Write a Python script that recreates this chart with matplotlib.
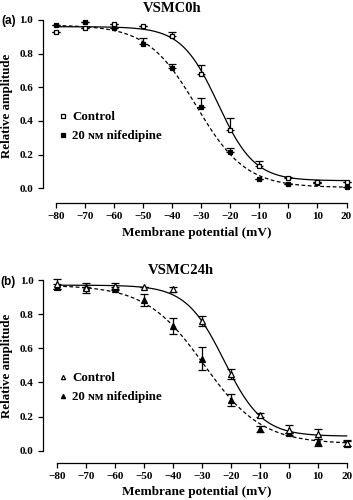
import numpy as np
import matplotlib
matplotlib.use("Agg")
import matplotlib.pyplot as plt

plt.rcParams['font.family'] = ['Liberation Serif', 'DejaVu Serif']
plt.rcParams['font.weight'] = 'bold'

# ---- data ----
voltages = [-80, -70, -60, -50, -40, -30, -20, -10, 0, 10, 20]

a_ctrl = [0.93, 0.95, 0.975, 0.965, 0.907, 0.68, 0.347, 0.13, 0.06, 0.04, 0.035]
a_ctrl_err = [0.0, 0.0, 0.0, 0.0, 0.024, 0.053, 0.07, 0.03, 0.01, 0.0, 0.0]
a_nif = [0.97, 0.985, 0.955, 0.86, 0.713, 0.485, 0.218, 0.055, 0.024, 0.034, 0.005]
a_nif_err = [0.0, 0.0, 0.0, 0.03, 0.026, 0.054, 0.024, 0.0, 0.0, 0.0, 0.0]

b_ctrl = [0.975, 0.955, 0.965, 0.962, 0.945, 0.76, 0.45, 0.21, 0.12, 0.10, 0.045]
b_ctrl_err = [0.03, 0.03, 0.015, 0.0, 0.015, 0.03, 0.03, 0.01, 0.03, 0.03, 0.02]
b_nif = [0.96, 0.96, 0.95, 0.883, 0.73, 0.54, 0.297, 0.127, 0.105, 0.05, 0.04]
b_nif_err = [0.015, 0.0, 0.01, 0.035, 0.045, 0.07, 0.035, 0.02, 0.0, 0.02, 0.015]

# Boltzmann fit parameters: top, bottom, V_half, slope k
a_ctrl_fit = (0.96, 0.045, -24.3, 6.3)
a_nif_fit = (0.97, 0.005, -31.7, 8.5)
b_ctrl_fit = (0.97, 0.085, -22.3, 6.6)
b_nif_fit = (0.97, 0.04, -29.3, 10.0)

titles = ["VSMC0h", "VSMC24h"]
panel_labels = ["(a)", "(b)"]
legend_labels = ["Control", "20 \u0274\u1d0d nifedipine"]
xticks = [-80, -70, -60, -50, -40, -30, -20, -10, 0, 10, 20]
xtick_labels = ["\u221280", "\u221270", "\u221260", "\u221250", "\u221240", "\u221230",
                "\u221220", "\u221210", "0", "10", "20"]
yticks = [0.0, 0.2, 0.4, 0.6, 0.8, 1.0]


def boltz(v, p):
    top, bot, vh, k = p
    return bot + (top - bot) / (1 + np.exp((v - vh) / k))


W, H = 353, 500
fig = plt.figure(figsize=(W / 100, H / 100), dpi=100)

panels = [
    dict(box=(42.7, 14.9, 350.0, 202.7), ybot=-0.0856, marker='s',
         ctrl=a_ctrl, ctrl_err=a_ctrl_err, nif=a_nif, nif_err=a_nif_err,
         cfit=a_ctrl_fit, nfit=a_nif_fit, sym=False, ms=3.5,
         title_xy=(172, 9), lab_xy=(1, 21), leg_y=(115, 134),
         xlab_y=232.5, ylab_y=106),
    dict(box=(43.3, 274.9, 350.2, 462.7), ybot=-0.0703, marker='^',
         ctrl=b_ctrl, ctrl_err=b_ctrl_err, nif=b_nif, nif_err=b_nif_err,
         cfit=b_ctrl_fit, nfit=b_nif_fit, sym=True, ms=3.8,
         title_xy=(181, 270), lab_xy=(0, 282), leg_y=(376, 396),
         xlab_y=492.5, ylab_y=366),
]

vv = np.linspace(-80, 20, 400)
for i, P in enumerate(panels):
    l, t, r, b = P['box']
    ax = fig.add_axes([l / W, 1 - b / H, (r - l) / W, (b - t) / H])
    ax.set_xlim(-84.7, 21.2)
    ax.set_ylim(P['ybot'], 1.03)
    for s in ['top', 'right']:
        ax.spines[s].set_visible(False)
    ax.spines['left'].set_bounds(0, 1.0)
    ax.spines['bottom'].set_bounds(-80, 20)
    for s in ['left', 'bottom']:
        ax.spines[s].set_linewidth(0.9)

    ax.plot(vv, boltz(vv, P['cfit']), color='black', lw=0.9, zorder=2)
    ax.plot(vv, boltz(vv, P['nfit']), color='black', lw=0.9,
            dashes=(3, 2), zorder=2)

    if P['sym']:
        cerr = P['ctrl_err']
        nerr = P['nif_err']
    else:
        cerr = [np.zeros(len(voltages)), P['ctrl_err']]
        nerr = [np.zeros(len(voltages)), P['nif_err']]

    ax.errorbar(voltages, P['ctrl'], yerr=cerr, fmt=P['marker'], ms=P['ms'],
                mfc='white', mec='black', mew=0.9, ecolor='black', elinewidth=0.9,
                capsize=2.6, capthick=0.9, clip_on=False, zorder=4,
                label=legend_labels[0])
    ax.errorbar(voltages, P['nif'], yerr=nerr, fmt=P['marker'], ms=P['ms'],
                mfc='black', mec='black', mew=0.9, ecolor='black', elinewidth=0.9,
                capsize=2.6, capthick=0.9, clip_on=False, zorder=3,
                label=legend_labels[1])

    ax.set_xticks(xticks)
    ax.set_xticklabels(xtick_labels)
    ax.set_yticks(yticks)
    ax.set_yticklabels([f"{y:.1f}" for y in yticks])
    ax.tick_params(direction='out', length=3.3, width=0.9, labelsize=8, pad=3.5)
    for lab in ax.get_xticklabels() + ax.get_yticklabels():
        lab.set_fontweight('bold')

    fig.text(0.5 * (l + r) / W, 1 - P['xlab_y'] / H, "Membrane potential (mV)",
             ha='center', va='center', fontsize=9.5, fontweight='bold')
    fig.text(7 / W, 1 - P['ylab_y'] / H, "Relative amplitude", rotation=90,
             ha='center', va='center', fontsize=9.3, fontweight='bold')

    fig.text(P['title_xy'][0] / W, 1 - P['title_xy'][1] / H, titles[i],
             ha='center', va='center', fontsize=10.5, fontweight='bold')
    fig.text(P['lab_xy'][0] / W, 1 - P['lab_xy'][1] / H, panel_labels[i],
             ha='left', va='center', fontsize=8.5, fontweight='bold',
             family=['Liberation Sans', 'DejaVu Sans'])

    handles, labels = ax.get_legend_handles_labels()
    handles = [h[0] for h in handles]
    ly0 = P['leg_y'][0]
    leg = ax.legend(handles, labels, loc='upper left', frameon=False,
                    bbox_to_anchor=((53 - l) / (r - l), 1 - (ly0 - 9 - t) / (b - t)),
                    borderaxespad=0, handlelength=0.8, handletextpad=0.3,
                    labelspacing=0.55, markerscale=0.8,
                    prop=dict(family=['Liberation Serif', 'DejaVu Serif'],
                              weight='bold', size=9.3))

fig.savefig("out.png", dpi=100)
